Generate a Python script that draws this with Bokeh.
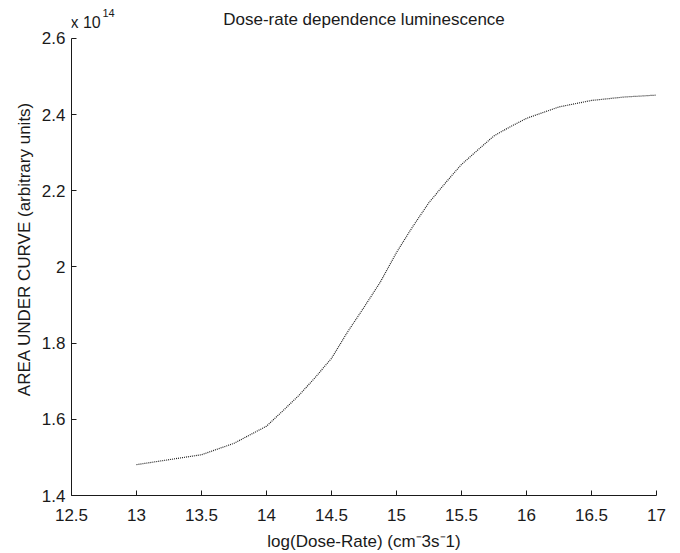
from bokeh.plotting import figure
from bokeh.models import Range1d, FixedTicker
from bokeh.core.properties import value
from bokeh.embed import file_html
from bokeh.resources import INLINE

# Data (AREA UNDER CURVE in units of 1e14)
log_dose_rate = [13.0, 13.25, 13.5, 13.75, 14.0, 14.125, 14.25, 14.375, 14.5, 14.625,
                 14.75, 14.875, 15.0, 15.125, 15.25, 15.375, 15.5, 15.625, 15.75,
                 15.875, 16.0, 16.25, 16.5, 16.75, 17.0]
area_under_curve = [1.481, 1.494, 1.507, 1.537, 1.582, 1.622, 1.663, 1.710, 1.760, 1.830,
                    1.894, 1.960, 2.038, 2.106, 2.169, 2.220, 2.269, 2.307, 2.344,
                    2.368, 2.390, 2.420, 2.437, 2.446, 2.451]

x_ticks = [12.5, 13, 13.5, 14, 14.5, 15, 15.5, 16, 16.5, 17]
x_tick_labels = ["12.5", "13", "13.5", "14", "14.5", "15", "15.5", "16", "16.5", "17"]
y_ticks = [1.4, 1.6, 1.8, 2, 2.2, 2.4, 2.6]
y_tick_labels = ["1.4", "1.6", "1.8", "2", "2.2", "2.4", "2.6"]
x_lo, x_hi = 12.5, 17
y_lo, y_hi = 1.4, 2.6

title_text = "Dose-rate dependence luminescence"
scale_text = "x 10"
scale_exp = "14"

FONT = "Liberation Sans"
FS = "17px"
INK = "#1a1a1a"

# frame layout (pixels)
FRAME_TOP = 2          # top of the drawing area
AXIS_TOP = 38          # pixel row of the y = 2.6 tick
AXIS_BOTTOM = 497
px_per_unit = (AXIS_BOTTOM - AXIS_TOP) / (y_hi - y_lo)
y_top = y_hi + (AXIS_TOP - FRAME_TOP) / px_per_unit

p = figure(width=680, height=553, output_backend="svg", toolbar_location=None,
           x_range=Range1d(x_lo, x_hi), y_range=Range1d(y_lo, y_top))
p.min_border_left = 71
p.min_border_right = 24
p.min_border_top = FRAME_TOP
p.min_border_bottom = 56
p.outline_line_color = None
p.background_fill_color = "white"
p.border_fill_color = "white"
p.grid.visible = False

for ax in (p.xaxis[0], p.yaxis[0]):
    ax.major_label_text_font = FONT
    ax.major_label_text_font_size = FS
    ax.major_label_text_color = INK
    ax.axis_label_text_font = FONT
    ax.axis_label_text_font_size = FS
    ax.axis_label_text_font_style = "normal"
    ax.axis_label_text_color = INK
    ax.major_tick_in = 5
    ax.major_tick_out = 0
    ax.minor_tick_in = 0
    ax.minor_tick_out = 0
    ax.axis_line_color = INK
    ax.major_tick_line_color = INK

p.yaxis.bounds = (y_lo, y_hi)
p.xaxis.ticker = FixedTicker(ticks=x_ticks)
p.xaxis.major_label_overrides = {t: l for t, l in zip(x_ticks, x_tick_labels)}
p.yaxis.ticker = FixedTicker(ticks=y_ticks)
p.yaxis.major_label_overrides = {t: l for t, l in zip(y_ticks, y_tick_labels)}

p.xaxis.axis_label = "log(Dose-Rate) (cm\u207b3s\u207b1)"
p.yaxis.axis_label = "AREA UNDER CURVE (arbitrary units)"
p.xaxis.major_label_standoff = 13
p.xaxis.axis_label_standoff = 8
p.yaxis.major_label_standoff = 6
p.yaxis.axis_label_standoff = 5

p.line(log_dose_rate, area_under_curve, line_color="#222222", line_width=1.2,
       line_dash="1 1")

# title and the axis multiplier, drawn as text in the (extended) frame
p.text(x=[(x_lo + x_hi) / 2], y=[y_hi], text=[title_text], y_offset=-19,
       text_font=value(FONT), text_font_size=FS, text_color=INK,
       text_align="center", text_baseline="alphabetic")
p.text(x=[x_lo], y=[y_hi], text=[scale_text], x_offset=-1, y_offset=-16,
       text_font=value(FONT), text_font_size="16px", text_color=INK,
       text_align="left", text_baseline="alphabetic")
p.text(x=[x_lo], y=[y_hi], text=[scale_exp], x_offset=31, y_offset=-25,
       text_font=value(FONT), text_font_size="11px", text_color=INK,
       text_align="left", text_baseline="alphabetic")

open("out.html", "w").write(file_html(p, INLINE))
